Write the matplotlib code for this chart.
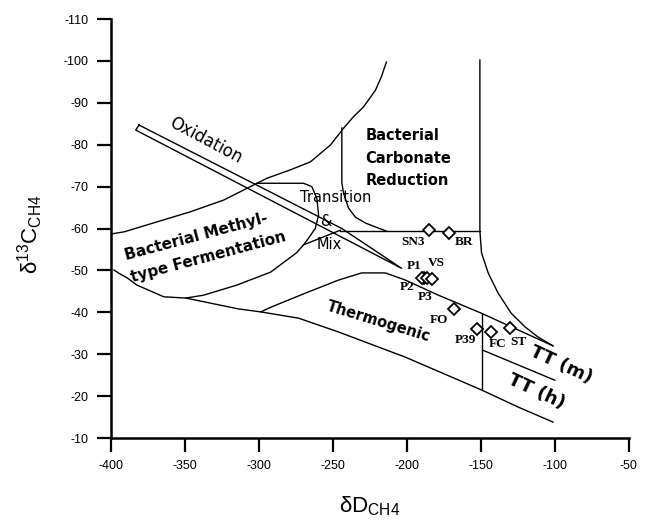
import matplotlib
matplotlib.use("Agg")
import matplotlib.pyplot as plt

plt.rcParams['font.family'] = ['Liberation Sans', 'DejaVu Sans']
plt.rcParams['axes.unicode_minus'] = False
plt.rcParams['mathtext.fontset'] = 'custom'
plt.rcParams['mathtext.rm'] = 'Liberation Sans'

# ---- sample data ----
names = ['SN3', 'BR', 'P1', 'P2', 'P3', 'VS', 'FO', 'P39', 'FC', 'ST']
dD = [-184.9, -171.4, -188.5, -190.1, -186.7, -182.9, -168.2, -152.5, -143.3, -130.5]
d13C = [-59.6, -59.0, -48.3, -48.1, -48.2, -47.9, -40.7, -36.0, -35.2, -36.2]
label_offsets = [(-16, -12), (15, -9), (-10, 12), (-14, -9), (-2, -19), (4, 16),
                 (-15, -11), (-12, -11), (7, -12), (9, -14)]

# ---- field boundaries ----
outer_x = [-400, -391.2, -368.8, -346.3, -323.8, -305.8, -294.6, -278.8, -265.3, -251.8,
           -242.9, -236.1, -229.4, -221.3, -217.3, -213.9]
outer_y = [-58.7, -59.2, -61.6, -64.0, -66.8, -70.0, -72.0, -74.0, -75.9, -79.9,
           -83.9, -86.7, -89.0, -93.0, -96.2, -99.7]

lower_x = [-398, -394.6, -389, -382.5, -364.3, -349.4, -313.7, -298.8, -273.2, -246.2,
           -201.1, -149.8, -124.9, -101.3]
lower_y = [-50.1, -49.3, -48.2, -46.5, -43.7, -43.4, -40.8, -40.1, -38.6, -35.3,
           -29.3, -21.5, -17.4, -13.8]

bean_x = [-349.4, -337.3, -315, -292.1, -274.6, -269.9, -266.5, -262, -259.7, -260.9,
          -264.3, -269.9, -301.3]
bean_y = [-43.4, -44.1, -46.5, -49.6, -54.2, -56.1, -57.7, -60, -63.2, -67.2,
          -70, -70.8, -70.8]

link_x = [-269.9, -245]
link_y = [-56.1, -59.6]

horiz_x = [-245, -150.7]
horiz_y = [-59.4, -59.4]

bcr_x = [-244, -244, -242.9, -239.5, -234.8, -228, -219.3, -214]
bcr_y = [-84, -71, -68.5, -64.9, -62.7, -61.3, -60.1, -59.4]

right_x = [-150.7, -150.7, -149.6, -145.1, -138.4, -129.6, -120.1, -111.4, -101.3]
right_y = [-100.2, -59.4, -54.2, -49.4, -44.6, -39.8, -36.5, -34.1, -32]

thermo_x = [-298.8, -291.4, -268.5, -246.2, -230.7, -214.6, -201.1, -178.8, -149.8,
            -124.9, -101.3]
thermo_y = [-40.1, -41.3, -44.6, -47.7, -49.4, -49.4, -47.7, -44.1, -39.8, -35.8, -32]

ttdiv_x = [-149, -149]
ttdiv_y = [-39.6, -21.4]
ttmid_x = [-149, -100.1]
ttmid_y = [-31, -23.8]

oxid_x = [-381.1, -244, -203.6, -383.3, -381.1]
oxid_y = [-84.7, -60, -50.5, -83.5, -84.7]

xticks = [-400, -350, -300, -250, -200, -150, -100, -50]
yticks = [-110, -100, -90, -80, -70, -60, -50, -40, -30, -20, -10]

fig = plt.figure(figsize=(6.47, 5.24), dpi=100)
ax = fig.add_axes([0.1716, 0.1641, 0.972 - 0.1716, 0.9637 - 0.1641])

lw = 1.0
for xs, ys in [(outer_x, outer_y), (lower_x, lower_y), (bean_x, bean_y), (link_x, link_y),
               (horiz_x, horiz_y), (bcr_x, bcr_y), (right_x, right_y),
               (thermo_x, thermo_y), (ttdiv_x, ttdiv_y), (ttmid_x, ttmid_y),
               (oxid_x, oxid_y)]:
    ax.plot(xs, ys, color='black', lw=lw, solid_joinstyle='round')

ax.plot(dD, d13C, linestyle='none', marker='D', ms=5.8, mfc='white', mec='black', mew=1.3,
        zorder=5)
for n, x, y, off in zip(names, dD, d13C, label_offsets):
    ax.annotate(n, (x, y), xytext=off, textcoords='offset pixels', ha='center',
                va='center', fontsize=9.5, fontweight='bold', family='Liberation Serif')

# region labels
rfont = 'DejaVu Sans'
ax.text(-335.9, -81.1, 'Oxidation', rotation=-28, rotation_mode='anchor', ha='center',
        va='center', fontsize=12, family=rfont)
ax.text(-336.5, -55.8, 'Bacterial Methyl-\ntype Fermentation', rotation=15,
        rotation_mode='anchor', ha='center', va='center', multialignment='left',
        fontsize=11, fontweight='bold', family=rfont, linespacing=1.65)
ax.text(-228, -76.8, 'Bacterial\nCarbonate\nReduction', ha='left', va='center',
        fontsize=10.5, fontweight='bold', family=rfont, linespacing=1.65)
ax.text(-248.4, -67.3, 'Transition', ha='center', va='center', fontsize=10.5, family=rfont)
ax.text(-254.5, -61.6, '&', ha='center', va='center', fontsize=10.5, family=rfont)
ax.text(-252.3, -56.1, 'Mix', ha='center', va='center', fontsize=10.5, family=rfont)
ax.text(-219.3, -37.7, 'Thermogenic', rotation=-17, rotation_mode='anchor', ha='center',
        va='center', fontsize=10.5, fontweight='bold', family=rfont)
ax.text(-95.9, -27.4, 'TT (m)', rotation=-25, rotation_mode='anchor', ha='center',
        va='center', fontsize=13, fontweight='bold', family=rfont)
ax.text(-112.7, -21.0, 'TT (h)', rotation=-25, rotation_mode='anchor', ha='center',
        va='center', fontsize=13, fontweight='bold', family=rfont)

ax.set_xlim(-400, -50)
ax.set_ylim(-10, -110)
ax.set_xticks(xticks)
ax.set_yticks(yticks)
ax.set_xticklabels([str(v) for v in xticks])
ax.set_yticklabels([str(v) for v in yticks])
for s in ['top', 'right']:
    ax.spines[s].set_visible(False)
for s in ['left', 'bottom']:
    ax.spines[s].set_linewidth(1.8)
ax.tick_params(direction='out', length=10, width=1.6, labelsize=9, pad=6)

ax.set_xlabel('δD$_{\\mathregular{CH4}}$', fontsize=16)
ax.set_ylabel('δ$^{\\mathregular{13}}$C$_{\\mathregular{CH4}}$', fontsize=16)
ax.xaxis.set_label_coords(0.5, -0.135)
ax.yaxis.set_label_coords(-0.127, 0.487)

fig.savefig('out.png', dpi=100)
